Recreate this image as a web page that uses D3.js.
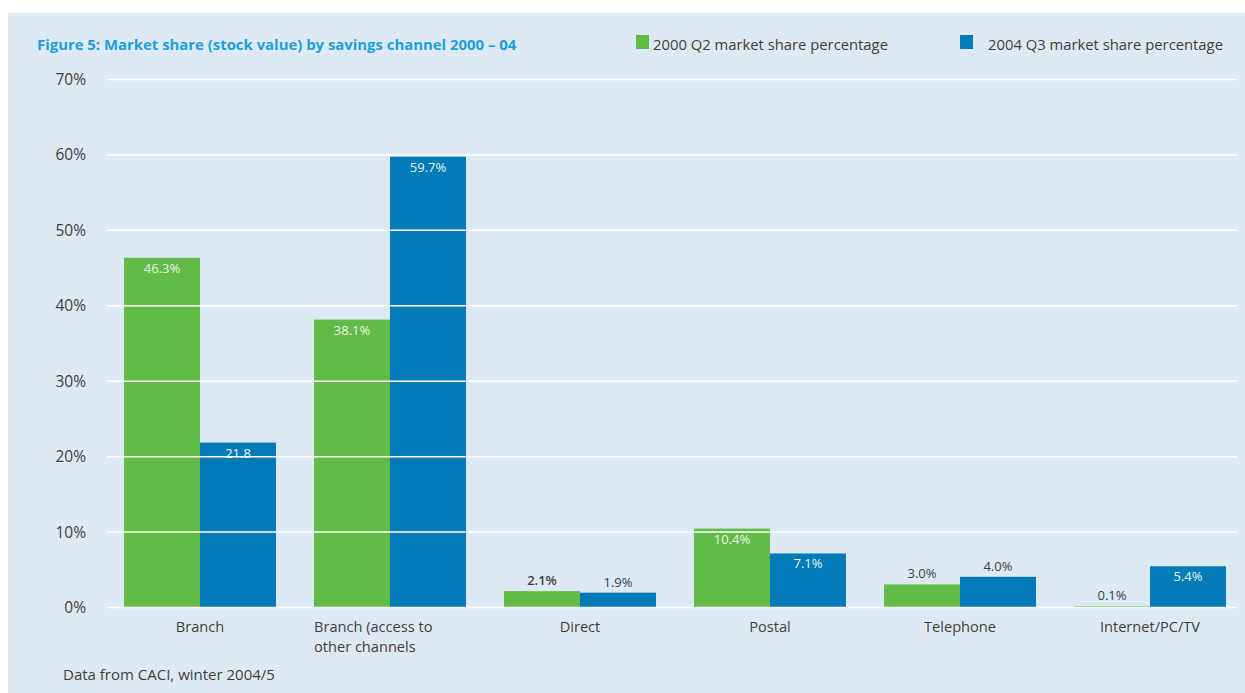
<!DOCTYPE html>
<html>
<head>
<meta charset="utf-8">
<script src="https://cdn.jsdelivr.net/npm/d3@7"></script>
<style>
  html, body { margin: 0; padding: 0; background: #ffffff; }
  svg { display: block; font-family: "Open Sans", "Noto Sans", sans-serif; }
</style>
</head>
<body>
<svg id="chart" width="1245" height="693"></svg>
<script>
// Savings channels and their market share (stock value)
const categories = ["Branch", "Branch (access to\nother channels", "Direct", "Postal", "Telephone", "Internet/PC/TV"];
const share2000 = [46.3, 38.1, 2.1, 10.4, 3.0, 0.1];
const share2004 = [21.8, 59.7, 1.9, 7.1, 4.0, 5.4];
const labels2000 = ["46.3%", "38.1%", "2.1%", "10.4%", "3.0%", "0.1%"];
const labels2004 = ["21.8", "59.7%", "1.9%", "7.1%", "4.0%", "5.4%"];
// Whether each value label sits inside the top of its bar
const inside2000 = [true, true, false, true, false, false];
const inside2004 = [true, true, false, true, false, true];
const seriesNames = ["2000 Q2 market share percentage", "2004 Q3 market share percentage"];
const yTicks = [0, 10, 20, 30, 40, 50, 60, 70];

const colors = { green: "#62bb46", blue: "#007bb8", panel: "#ddeaf4", text: "#3e3e3e", title: "#1ba0dc" };

const svg = d3.select("#chart");

// Background panel
svg.append("rect").attr("x", 8).attr("y", 13).attr("width", 1237).attr("height", 680).attr("fill", colors.panel);

const x0 = d3.scaleBand().domain(categories).range([105, 1245]).paddingInner(0.2).paddingOuter(0.1);
const x1 = d3.scaleBand().domain(["a", "b"]).range([0, x0.bandwidth()]);
const y = d3.scaleLinear().domain([0, 70]).range([607, 79]);

// Bars
const series = [
  { key: "a", values: share2000, labels: labels2000, inside: inside2000, color: colors.green },
  { key: "b", values: share2004, labels: labels2004, inside: inside2004, color: colors.blue }
];

const barG = svg.append("g");
series.forEach(s => {
  barG.selectAll(null).data(categories).enter().append("rect")
    .attr("x", (c) => x0(c) + x1(s.key))
    .attr("width", x1.bandwidth())
    .attr("y", (c, i) => y(s.values[i]))
    .attr("height", (c, i) => y(0) - y(s.values[i]))
    .attr("fill", s.color);
});

// Gridlines drawn over the bars
const grid = svg.append("g")
  .attr("transform", "translate(107,0)")
  .call(d3.axisLeft(y).tickValues(yTicks).tickSize(-(1237 - 107)).tickFormat(""));
grid.select(".domain").remove();
grid.selectAll(".tick line").attr("stroke", "#ffffff").attr("stroke-width", 1.5);

// Y tick labels
const yAxis = svg.append("g").attr("transform", "translate(86,0)")
  .call(d3.axisLeft(y).tickValues(yTicks).tickSize(0).tickFormat(d => d + "%"));
yAxis.select(".domain").remove();
yAxis.selectAll("text")
  .attr("x", 0).attr("dy", "0.35em")
  .attr("font-family", "'Open Sans', 'Noto Sans', sans-serif")
  .attr("font-size", 15.5).attr("fill", colors.text);

// Value labels
series.forEach(s => {
  svg.append("g").selectAll("text").data(categories).enter().append("text")
    .attr("x", (c) => x0(c) + x1(s.key) + x1.bandwidth() / 2)
    .attr("y", (c, i) => s.inside[i] ? y(s.values[i]) + 15 : y(s.values[i]) - 6)
    .attr("text-anchor", "middle")
    .attr("font-size", 13)
    .attr("fill", (c, i) => s.inside[i] ? "#eef5ea" : colors.text)
    .attr("font-weight", (c, i) => (s.key === "a" && i === 2) ? 600 : 400)
    .text((c, i) => s.labels[i]);
});

// Category labels
const catG = svg.append("g");
categories.forEach(c => {
  const lines = c.split("\n");
  const t = catG.append("text")
    .attr("font-size", 14.6).attr("fill", colors.text)
    .attr("text-anchor", lines.length > 1 ? "start" : "middle");
  const xx = lines.length > 1 ? x0(c) : x0(c) + x0.bandwidth() / 2;
  lines.forEach((ln, k) => {
    t.append("tspan").attr("x", xx).attr("y", 632 + k * 20).text(ln);
  });
});

// Title
svg.append("text").attr("x", 37).attr("y", 50)
  .attr("font-size", 14.9).attr("font-weight", 700).attr("fill", colors.title)
  .text("Figure 5: Market share (stock value) by savings channel 2000 \u2013 04");

// Legend
const legendPos = [{ sx: 636, tx: 653 }, { sx: 960, tx: 988 }];
[colors.green, colors.blue].forEach((col, i) => {
  svg.append("rect").attr("x", legendPos[i].sx).attr("y", 35).attr("width", 13).attr("height", 14).attr("fill", col);
  svg.append("text").attr("x", legendPos[i].tx).attr("y", 50)
    .attr("font-size", 14.8).attr("fill", colors.text).text(seriesNames[i]);
});

// Source note
svg.append("text").attr("x", 63).attr("y", 680)
  .attr("font-size", 15).attr("fill", colors.text).text("Data from CACI, winter 2004/5");
</script>
</body>
</html>
